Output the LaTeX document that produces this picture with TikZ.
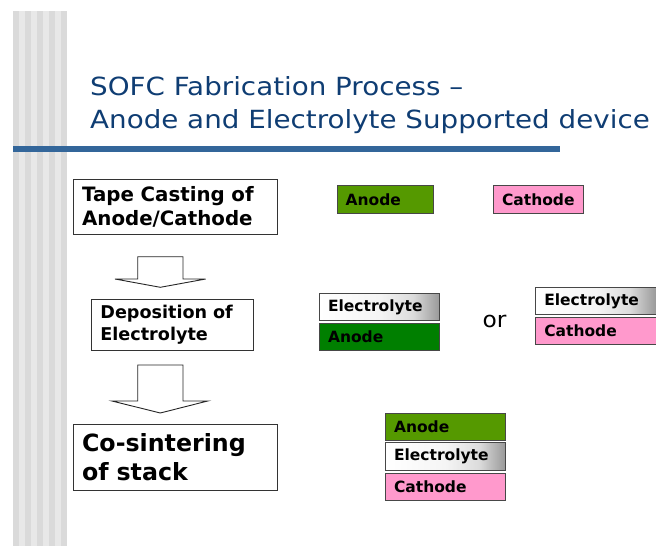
\documentclass[tikz,border=0pt]{standalone}
\usepackage{fontspec}
\setmainfont{DejaVu Sans}
\newfontfamily\headfont[FakeStretch=1.11]{DejaVu Sans}
\newfontfamily\orfont[FakeStretch=1.06]{DejaVu Sans}
\usetikzlibrary{calc}
\definecolor{titleblue}{HTML}{0F3D73}
\definecolor{rulebl}{HTML}{33669A}
\definecolor{sideL}{HTML}{E8E8E8}
\definecolor{sideD}{HTML}{DADADA}
\definecolor{anodeolive}{HTML}{559900}
\definecolor{anodegreen}{HTML}{007F00}
\definecolor{cathpink}{HTML}{FF99CC}
% silver band: white on the left, greying towards the right end
\pgfdeclarehorizontalshading{silverband}{100bp}{color(0bp)=(white); color(25bp)=(white);
  color(50bp)=(white!96!black); color(64bp)=(white!86!black); color(75bp)=(white!60!black);
  color(100bp)=(white!60!black)}
\begin{document}
\begin{tikzpicture}[x=1pt,y=-1pt,
  title/.style={text=titleblue,font=\headfont\fontsize{25}{29}\selectfont,inner sep=0pt,anchor=base west},
  flowbox/.style={draw=black!80,line width=0.8pt,anchor=north west,align=left,inner ysep=0pt,font=\bfseries},
  layer/.style={draw=black!72,line width=1pt,anchor=north west,align=left,inner ysep=0pt,inner xsep=8.5pt,
    font=\bfseries\fontsize{15.5}{18}\selectfont},
  electro/.style={layer,shading=silverband},
  blockarrow/.style={draw=black!85,line width=0.9pt,fill=white,line join=miter}]
\useasboundingbox (0,0) rectangle (656,546);

% striped side bar
\fill[sideL] (13,11) rectangle (67,546);
\foreach \k in {0,...,4}
  \fill[sideD] ({13+12*\k},11) rectangle ({19+12*\k},546);

% heading and rule
\node[title] (t1) at (90,95.5) {SOFC Fabrication Process –};
\node[title] (t2) at (90,128.8) {Anode and Electrolyte Supported device};
\fill[rulebl] (13,145.7) rectangle (560,152);

% process steps
\node[flowbox,inner xsep=8.4pt,text width=186.9pt,minimum height=55.3pt,
  font=\bfseries\fontsize{19.8}{23.4}\selectfont] (tape) at (73.3,179)
  {Tape Casting of\\Anode/Cathode};
\node[flowbox,inner xsep=9pt,text width=143.7pt,minimum height=50.7pt,
  font=\bfseries\fontsize{17.6}{22.3}\selectfont] (dep) at (91,299.3)
  {Deposition of\\Electrolyte};
\node[flowbox,inner xsep=8.4pt,text width=186.9pt,minimum height=65.7pt,
  font=\bfseries\fontsize{23.7}{29}\selectfont] (cos) at (73.3,424.3)
  {Co-sintering\\of stack};

% block arrows between the steps
\coordinate (a1top) at (160.3,256.7);
\coordinate (a1tip) at (160.3,287.3);
\draw[blockarrow] ($(a1top)+(-22.6,0)$) -- ($(a1top)+(-22.6,22.3)$) -- ($(a1top)+(-45.3,22.3)$)
  -- (a1tip) -- ($(a1top)+(45.4,22.3)$) -- ($(a1top)+(22.7,22.3)$) -- ($(a1top)+(22.7,0)$) -- cycle;
\coordinate (a2top) at (160.3,365);
\coordinate (a2tip) at (160.3,413);
\draw[blockarrow] ($(a2top)+(-22.6,0)$) -- ($(a2top)+(-22.6,36)$) -- ($(a2top)+(-48.3,36)$)
  -- (a2tip) -- ($(a2top)+(47.4,36)$) -- ($(a2top)+(22.7,36)$) -- ($(a2top)+(22.7,0)$) -- cycle;

% tapes
\node[layer,fill=anodeolive,text width=79.6pt,minimum height=27.4pt] (an1) at (336.7,185.3) {Anode};
\node[layer,fill=cathpink,text width=73pt,minimum height=27.4pt] (ca1) at (493,185.3) {Cathode};

% electrolyte on anode
\node[electro,text width=103pt,minimum height=27.3pt] (el2) at (319,292.7) {Electrolyte};
\node[layer,fill=anodegreen,text width=103pt,minimum height=26.7pt] (an2) at (319,323.3) {Anode};

\node[font=\orfont\fontsize{22}{26}\selectfont,inner sep=0pt,anchor=base west] (or) at (482.5,327.3) {or};

% electrolyte on cathode
\node[electro,text width=103.4pt,minimum height=27.6pt] (el3) at (535.3,286.7) {Electrolyte};
\node[layer,fill=cathpink,text width=103.4pt,minimum height=27.3pt] (ca3) at (535.3,317) {Cathode};

% sintered stack
\node[layer,fill=anodeolive,text width=103pt,minimum height=27.3pt] (an4) at (385,413) {Anode};
\node[electro,text width=103pt,minimum height=27.7pt] (el4) at (385,442.3) {Electrolyte};
\node[layer,fill=cathpink,text width=103pt,minimum height=27.3pt] (ca4) at (385,472.7) {Cathode};
\end{tikzpicture}
\end{document}
